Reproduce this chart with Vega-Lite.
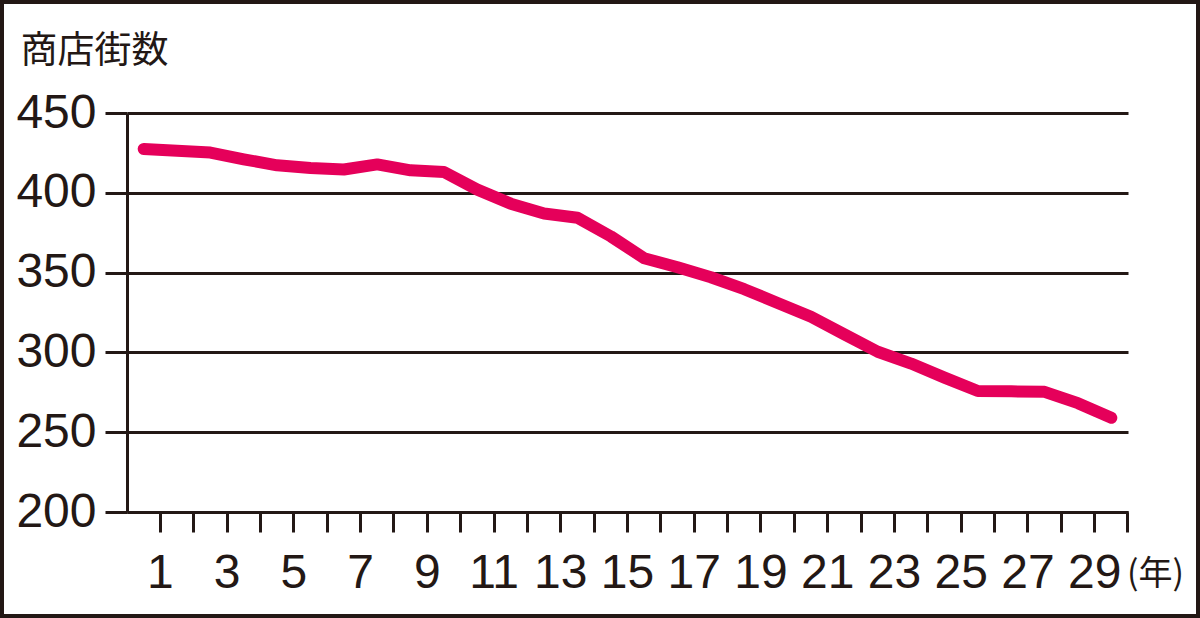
{
  "$schema": "https://vega.github.io/schema/vega-lite/v6.json",
  "width": 1200,
  "height": 618,
  "autosize": {"type": "none"},
  "padding": 0,
  "background": "white",
  "config": {
    "view": {"stroke": "#231815", "strokeWidth": 8},
    "axis": {
      "domainColor": "#231815",
      "tickColor": "#231815",
      "labelColor": "#231815",
      "titleColor": "#231815",
      "domainWidth": 3,
      "tickWidth": 3,
      "labelFont": "Liberation Sans",
      "labelFontSize": 48,
      "labelFontWeight": "normal"
    }
  },
  "data": {
    "values": [
      {"year": 1, "count": 427.5},
      {"year": 2, "count": 426.3},
      {"year": 3, "count": 425.2},
      {"year": 4, "count": 421},
      {"year": 5, "count": 417.2},
      {"year": 6, "count": 415.6},
      {"year": 7, "count": 414.6},
      {"year": 8, "count": 417.8},
      {"year": 9, "count": 414.1},
      {"year": 10, "count": 413},
      {"year": 11, "count": 402},
      {"year": 12, "count": 393.2},
      {"year": 13, "count": 387},
      {"year": 14, "count": 384.4},
      {"year": 15, "count": 372.7},
      {"year": 16, "count": 359},
      {"year": 17, "count": 353.3},
      {"year": 18, "count": 347.1},
      {"year": 19, "count": 339.6},
      {"year": 20, "count": 331},
      {"year": 21, "count": 322.3},
      {"year": 22, "count": 311.3},
      {"year": 23, "count": 300.4},
      {"year": 24, "count": 293},
      {"year": 25, "count": 284.2},
      {"year": 26, "count": 275.8},
      {"year": 27, "count": 275.6},
      {"year": 28, "count": 275.3},
      {"year": 29, "count": 268.2},
      {"year": 30, "count": 259}
    ]
  },
  "mark": {
    "type": "line",
    "color": "#E5005A",
    "strokeWidth": 12,
    "strokeCap": "round",
    "strokeJoin": "round"
  },
  "encoding": {
    "x": {
      "field": "year",
      "type": "ordinal",
      "sort": "ascending",
      "scale": {"type": "band", "range": [127, 1128], "paddingInner": 0, "paddingOuter": 0},
      "axis": {
        "offset": -106,
        "bandPosition": 1,
        "tickSize": 20,
        "labelAngle": 0,
        "labelOffset": 16.7,
        "labelPadding": 17,
        "labelExpr": "datum.value % 2 == 1 ? datum.label : ''",
        "grid": false,
        "title": "(年)",
        "titleFont": "Noto Sans CJK JP",
        "titleFontSize": 34,
        "titleFontWeight": "normal",
        "titleAngle": 0,
        "titleAlign": "center",
        "titleBaseline": "middle",
        "titleX": 1155,
        "titleY": 62
      }
    },
    "y": {
      "field": "count",
      "type": "quantitative",
      "scale": {"domain": [200, 450], "range": [512, 113], "nice": false, "zero": false},
      "axis": {
        "offset": -127,
        "values": [200, 250, 300, 350, 400, 450],
        "tickSize": 22,
        "labelPadding": 9,
        "grid": true,
        "gridColor": "#231815",
        "gridWidth": 3,
        "gridOpacity": 1,
        "title": "商店街数",
        "titleFont": "Noto Sans CJK JP",
        "titleFontSize": 37,
        "titleFontWeight": "normal",
        "titleAngle": 0,
        "titleAlign": "left",
        "titleBaseline": "middle",
        "titleX": -107,
        "titleY": 51
      }
    }
  }
}
